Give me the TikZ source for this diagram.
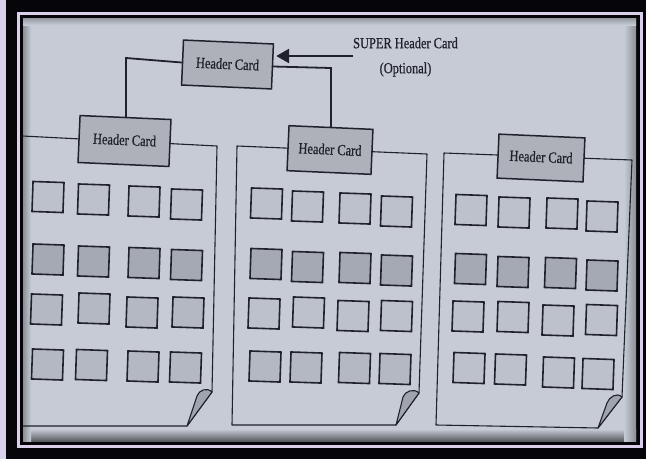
\documentclass[tikz,border=0pt]{standalone}
\usepackage{fontspec}
\setmainfont{Liberation Serif}
\newfontfamily\inkfont{Liberation Serif}[FakeBold=0.7]
\usepackage{graphicx}
\usetikzlibrary{arrows.meta}
\definecolor{paper}{RGB}{198,203,214}
\definecolor{lav}{RGB}{218,208,236}
\definecolor{ink}{RGB}{32,34,42}
\definecolor{hdr}{RGB}{174,177,186}
\definecolor{sqL}{RGB}{189,193,204}
\definecolor{sqM}{RGB}{180,184,195}
\definecolor{sqD}{RGB}{165,169,180}
\definecolor{flapc}{RGB}{160,164,175}
\definecolor{nearblack}{RGB}{6,6,10}
\newcommand{\narrow}[1]{\scalebox{0.8}[1]{#1}}
\begin{document}
\begin{tikzpicture}[x=1pt,y=-1pt,
  hdrbox/.style={draw=ink,line width=1.5pt,fill=hdr,inner sep=0pt,text=ink,
    font=\inkfont\fontsize{15.5}{15.5}\selectfont,rotate=-2.5},
  sqbox/.style={draw=ink,line width=1.6pt,minimum width=31pt,minimum height=30pt,
    inner sep=0pt,rotate=-2},
  pageline/.style={draw=ink,line width=1.1pt,line join=round},
  flap/.style={draw=ink,line width=1.1pt,fill=flapc,line join=round},
  conn/.style={draw=ink,line width=1.8pt},
  bigarrow/.style={draw=ink,line width=2.6pt,-{Triangle[length=13pt,width=14pt]},shorten >=3pt}]
\useasboundingbox (0,0) rectangle (646,459);
% frame
\fill[nearblack] (0,0) rectangle (646,459);
\fill[lav] (0,0) rectangle (6,459);
\draw[lav,line width=3pt] (18.5,13.5) rectangle (641.5,446);
\fill[paper] (23,18) rectangle (636,441);
\shade[top color=paper,bottom color=paper!45!black] (23,429) rectangle (636,441);
\shade[left color=paper,right color=paper!70!black] (624,18) rectangle (636,441);
\shade[left color=paper!70!black,right color=paper] (23,18) rectangle (31,441);
\shade[top color=paper!75!black,bottom color=paper] (23,18) rectangle (636,25);
% pages
\draw[pageline] (22.5,136) -- (217,146) -- (212,392) -- (187,426) -- (23,426);
\filldraw[flap] (212,392) .. controls +(-5,-5) and +(2,-6) .. (197,396) -- (187,426) -- cycle;
\draw[pageline] (237,146) -- (427,154) -- (419,393) -- (396,425) -- (232,425) -- cycle;
\filldraw[flap] (419,393) .. controls +(-5,-5) and +(2,-6) .. (403,397) -- (396,425) -- cycle;
\draw[pageline] (444,153) -- (632,160) -- (622,397) -- (598,428) -- (436,425) -- cycle;
\filldraw[flap] (622,397) .. controls +(-5,-5) and +(2,-6) .. (607,403) -- (598,428) -- cycle;
% header cards
\node[hdrbox,minimum width=90pt,minimum height=45pt] (sup) at (227.5,64.5) {\raisebox{1.5pt}{\narrow{Header Card}}};
\node[hdrbox,minimum width=91pt,minimum height=47pt] (h1) at (124.5,141) {\raisebox{2.5pt}{\narrow{Header Card}}};
\node[hdrbox,minimum width=84pt,minimum height=45pt] (h2) at (330,150) {\raisebox{1.5pt}{\narrow{Header Card}}};
\node[hdrbox,minimum width=86pt,minimum height=44pt] (h3) at (541,158) {\raisebox{2.5pt}{\narrow{Header Card}}};
% super label and arrow
\node[align=center,font=\inkfont\fontsize{15.5}{25}\selectfont,text=ink,inner sep=0pt] (slabel) at (405.5,57) {\narrow{SUPER Header Card}\\\narrow{(Optional)}};
\coordinate (astart) at (353,56);
\draw[bigarrow] (astart) -- (sup.east |- astart);
% connectors
\coordinate (b1) at (126,58);
\coordinate (b2) at (331,68);
\draw[conn] (sup.west) -- (b1) -- (b1 |- h1.north);
\draw[conn] (sup.east) -- (b2) -- (b2 |- h2.north);
% squares
\foreach \n/\x/\y/\f in {
 a11/48/197/sqL, a12/93.5/199.5/sqL, a13/144/201.5/sqL, a14/186.5/204.5/sqL,
 a21/48/259.5/sqD, a22/93.5/261.5/sqD, a23/144/263/sqD, a24/186.5/265/sqD,
 a31/46.5/309.5/sqM, a32/94/308.5/sqM, a33/142/312.5/sqM, a34/188/312.5/sqM,
 a41/47.5/364.5/sqM, a42/91.5/365/sqM, a43/143/366.5/sqM, a44/185.5/367.5/sqM,
 b11/266.5/203.5/sqL, b12/307.5/206.5/sqL, b13/355/208.5/sqL, b14/396.5/211.5/sqL,
 b21/266/264/sqD, b22/307.5/267/sqD, b23/355/268/sqD, b24/396.5/270.5/sqD,
 b31/264/313.5/sqL, b32/308.5/312.5/sqL, b33/353/316/sqL, b34/396.5/316/sqL,
 b41/265/366.5/sqM, b42/306/367.5/sqM, b43/354.5/368/sqM, b44/395/369/sqM,
 c11/471/210/sqL, c12/514/212.5/sqL, c13/562/213.5/sqL, c14/602/216.5/sqL,
 c21/470.5/269/sqD, c22/513/272/sqD, c23/560.5/273/sqD, c24/602/275.5/sqD,
 c31/468/316.5/sqL, c32/513/317/sqL, c33/558/320.5/sqL, c34/601.5/320/sqL,
 c41/469/368/sqL, c42/510.5/369.5/sqL, c43/558.5/372.5/sqL, c44/598/374/sqL}
 \node[sqbox,fill=\f] (\n) at (\x,\y) {};
\end{tikzpicture}
\end{document}
